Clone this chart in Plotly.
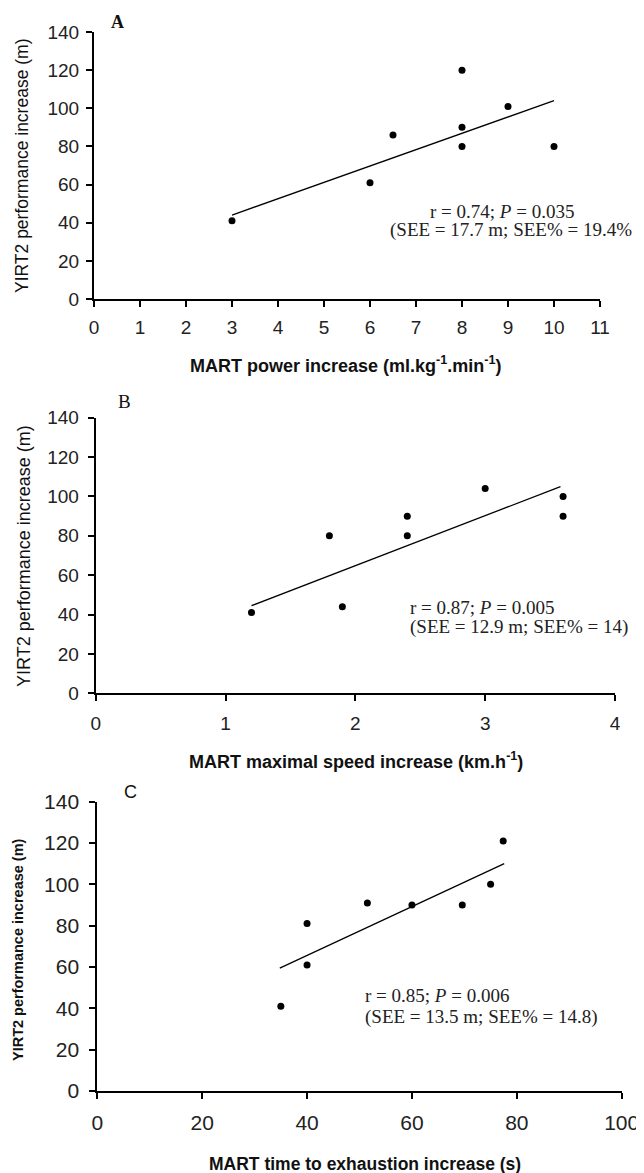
import plotly.graph_objects as go

# The page body has an 8px default margin, so the figure is drawn 8px in
# from the top-left; sizes and positions below compensate for it.
PAGE_W, PAGE_H = 644, 1173
OFF = 8
W, H = PAGE_W - OFF, PAGE_H - OFF

# ---------------- data ----------------
a_x = [3, 6, 6.5, 8, 8, 8, 9, 10]
a_y = [41, 61, 86, 80, 90, 120, 101, 80]
a_trend_x = [3, 10]
a_trend_y = [44, 104]

b_x = [1.2, 1.8, 1.9, 2.4, 2.4, 3.0, 3.6, 3.6]
b_y = [41, 80, 44, 90, 80, 104, 100, 90]
b_trend_x = [1.2, 3.58]
b_trend_y = [44.5, 105]

c_x = [35, 40, 40, 51.5, 60, 69.6, 75, 77.4]
c_y = [41, 81, 61, 91, 90, 90, 100, 121]
c_trend_x = [34.8, 77.6]
c_trend_y = [59.5, 110]

y_ticks = [0, 20, 40, 60, 80, 100, 120, 140]
a_xticks = list(range(0, 12))
b_xticks = [0, 1, 2, 3, 4]
c_xticks = [0, 20, 40, 60, 80, 100]

y_title = "YIRT2 performance increase (m)"
a_xtitle = "MART power increase (ml.kg<sup>-1</sup>.min<sup>-1</sup>)"
b_xtitle = "MART maximal speed increase (km.h<sup>-1</sup>)"
c_xtitle = "MART time to exhaustion increase (s)"

a_stats = ["r = 0.74; <i>P</i> = 0.035", "(SEE = 17.7 m; SEE% = 19.4%"]
b_stats = ["r = 0.87; <i>P</i> = 0.005", "(SEE = 12.9 m; SEE% = 14)"]
c_stats = ["r = 0.85; <i>P</i> = 0.006", "(SEE = 13.5 m; SEE% = 14.8)"]


def px(x):
    return (x - OFF) / W


def py(y):
    return 1 - (y - OFF) / H


fig = go.Figure()

panels = [
    dict(n="", x=a_x, y=a_y, tx=a_trend_x, ty=a_trend_y, xr=[0, 11], xt=a_xticks,
         xd=[px(94), px(600)], yd=[py(299), py(32)], tick=19, ys=3, xs=4),
    dict(n="2", x=b_x, y=b_y, tx=b_trend_x, ty=b_trend_y, xr=[0, 4], xt=b_xticks,
         xd=[px(95.7), px(615)], yd=[py(693.3), py(417.7)], tick=19, ys=5, xs=6),
    dict(n="3", x=c_x, y=c_y, tx=c_trend_x, ty=c_trend_y, xr=[0, 100], xt=c_xticks,
         xd=[px(97.3), px(621.7)], yd=[py(1091), py(801.7)], tick=21, ys=6, xs=6),
]

for p in panels:
    xa = "x" + p["n"]
    ya = "y" + p["n"]
    fig.add_trace(go.Scatter(x=p["tx"], y=p["ty"], mode="lines", xaxis=xa, yaxis=ya,
                             line=dict(color="black", width=1.3), showlegend=False,
                             hoverinfo="skip"))
    fig.add_trace(go.Scatter(x=p["x"], y=p["y"], mode="markers", xaxis=xa, yaxis=ya,
                             marker=dict(color="black", size=7, symbol="circle"),
                             showlegend=False))
    axis_common = dict(showgrid=False, zeroline=False, showline=True, linecolor="black",
                       linewidth=2, ticks="outside", ticklen=6, tickwidth=2,
                       tickcolor="black", automargin=False,
                       tickfont=dict(family="Liberation Sans, Arial", size=p["tick"],
                                     color="#222"))
    fig.update_layout(**{
        "xaxis" + p["n"]: dict(domain=p["xd"], range=p["xr"], tickvals=p["xt"],
                               anchor=ya, ticklabelstandoff=p["xs"], **axis_common),
        "yaxis" + p["n"]: dict(domain=p["yd"], range=[0, 140], tickvals=y_ticks,
                               anchor=xa, ticklabelstandoff=p["ys"], **axis_common),
    })

annotations = []
ink = "#111"

# panel letters
annotations += [
    dict(x=px(117), y=py(22), text="<b>A</b>", font=dict(family="Liberation Serif", size=18, color=ink)),
    dict(x=px(125), y=py(401), text="B", font=dict(family="Liberation Serif", size=19, color=ink)),
    dict(x=px(130), y=py(792), text="C", font=dict(family="Liberation Sans", size=18, color=ink)),
]

# y axis titles
annotations += [
    dict(x=px(22), y=py(166), text=y_title, textangle=-90,
         font=dict(family="Liberation Sans", size=17.5, color=ink)),
    dict(x=px(24), y=py(556), text=y_title, textangle=-90,
         font=dict(family="Liberation Sans", size=18, color=ink)),
    dict(x=px(18), y=py(950), text="<b>" + y_title + "</b>", textangle=-90,
         font=dict(family="Liberation Sans", size=14.5, color=ink)),
]

# x axis titles
annotations += [
    dict(x=px(345), y=py(364), text="<b>" + a_xtitle + "</b>",
         font=dict(family="Liberation Sans", size=18, color=ink)),
    dict(x=px(356), y=py(760), text="<b>" + b_xtitle + "</b>",
         font=dict(family="Liberation Sans", size=18, color=ink)),
    dict(x=px(365), y=py(1164), text="<b>" + c_xtitle + "</b>",
         font=dict(family="Liberation Sans", size=17.5, color=ink)),
]

# stats text
serif = dict(family="Liberation Serif, Times New Roman", size=19, color="#222")
annotations += [
    dict(x=px(502), y=py(211), text=a_stats[0], font=serif),
    dict(x=px(511), y=py(230), text=a_stats[1], font=serif),
    dict(x=px(408), y=py(607), text=b_stats[0], font=serif, xanchor="left"),
    dict(x=px(408), y=py(627), text=b_stats[1], font=serif, xanchor="left"),
    dict(x=px(363), y=py(996), text=c_stats[0], font=serif, xanchor="left"),
    dict(x=px(363), y=py(1017), text=c_stats[1], font=serif, xanchor="left"),
]

for a in annotations:
    a.setdefault("xref", "paper")
    a.setdefault("yref", "paper")
    a.setdefault("showarrow", False)
    a.setdefault("xanchor", "center")
    a.setdefault("yanchor", "middle")

fig.update_layout(width=W, height=H, margin=dict(l=0, r=0, t=0, b=0, autoexpand=False),
                  paper_bgcolor="white", plot_bgcolor="white",
                  font=dict(color=ink),
                  annotations=annotations, showlegend=False)

fig.write_html("out.html")
